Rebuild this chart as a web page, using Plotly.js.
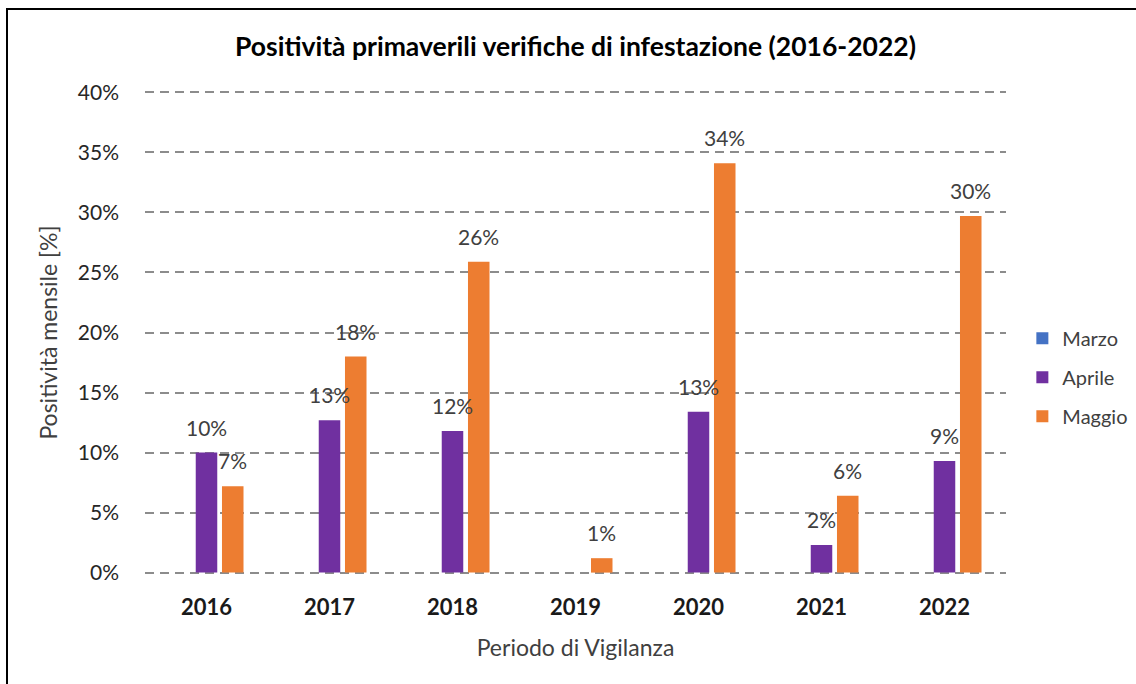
<!DOCTYPE html>
<html>
<head>
<meta charset="utf-8">
<script src="https://cdn.plot.ly/plotly-3.0.1.min.js"></script>
<style>
  html, body { margin: 0; padding: 0; background: #ffffff; overflow: hidden; }
  #frame { position: absolute; left: 0; top: 0; width: 1136px; height: 684px; }
  #border { position: absolute; left: 6px; top: 8px; width: 1200px; height: 800px;
            border-left: 2px solid #000; border-top: 2px solid #000; pointer-events: none; }
  #chart { position: absolute; left: 0; top: 0; width: 1136px; height: 684px; }
</style>
</head>
<body>
<div id="frame">
  <div id="chart"></div>
  <div id="border"></div>
</div>
<script>
// ---- data ----
const years = ['2016', '2017', '2018', '2019', '2020', '2021', '2022'];
const marzo = [0, 0, 0, 0, 0, 0, 0];
const aprile = [0.100, 0.127, 0.118, null, 0.134, 0.023, 0.093];
const maggio = [0.072, 0.180, 0.259, 0.012, 0.341, 0.064, 0.297];
const seriesNames = ['Marzo', 'Aprile', 'Maggio'];
const seriesColors = ['#4472C4', '#7030A0', '#ED7D31'];
const yTicks = [0, 0.05, 0.10, 0.15, 0.20, 0.25, 0.30, 0.35, 0.40];

const FONT = 'Lato, "Open Sans", sans-serif';
const TXT = '#404040';

const seriesData = [marzo, aprile, maggio];
const traces = seriesData.map((vals, i) => ({
  type: 'bar',
  name: seriesNames[i],
  x: years,
  y: vals,
  marker: { color: seriesColors[i], line: { width: 0 } },
  legendgroup: 'g' + i,
  showlegend: true,
  hoverinfo: 'skip'
}));

// data labels (Aprile and Maggio)
const slot = 26.2; // px between grouped bar centres
const annotations = [];
[1, 2].forEach(si => {
  seriesData[si].forEach((v, j) => {
    if (v === null || v === 0) return;
    annotations.push({
      x: j, y: v, xref: 'x', yref: 'y',
      text: Math.round(v * 100) + '%',
      showarrow: false,
      xshift: (si - 1) * slot,
      yshift: 11,
      yanchor: 'bottom',
      font: { family: FONT, size: 21, color: TXT }
    });
  });
});

const layout = {
  width: 1136, height: 684,
  paper_bgcolor: '#ffffff', plot_bgcolor: '#ffffff',
  margin: { l: 145, r: 130, t: 89.6, b: 108.6, pad: 0, autoexpand: false },
  barmode: 'group',
  bargap: 0.36,
  bargroupgap: 0.18,
  font: { family: FONT, color: TXT },
  title: {
    text: '<b>Positività primaverili verifiche di infestazione (2016-2022)</b>',
    font: { family: FONT, size: 26.5, color: '#000000' },
    x: 0.5, xref: 'paper', xanchor: 'center',
    y: 1 - 47 / 684, yref: 'container', yanchor: 'middle'
  },
  xaxis: {
    type: 'category',
    categoryorder: 'array',
    categoryarray: years,
    range: [-0.5, years.length - 0.5],
    autorange: false,
    tickvals: years,
    ticktext: years.map(y => '<b>' + y + '</b>'),
    tickangle: 0,
    tickfont: { family: FONT, size: 22, color: '#1a1a1a' },
    showgrid: false, zeroline: false, showline: false,
    ticks: '', ticklabelstandoff: 17,
    title: { text: 'Periodo di Vigilanza', font: { family: FONT, size: 23, color: TXT }, standoff: 20 },
    fixedrange: true
  },
  yaxis: {
    range: [-0.002, 0.402],
    autorange: false,
    tickvals: yTicks,
    tickformat: '.0%',
    tickfont: { family: FONT, size: 21, color: '#262626' },
    showgrid: true, gridcolor: '#8c8c8c', gridwidth: 2, griddash: '9px,6px',
    zeroline: false, showline: false, ticks: '', ticklabelstandoff: 25,
    title: { text: 'Positività mensile [%]', font: { family: FONT, size: 23, color: TXT }, standoff: 13 },
    fixedrange: true
  },
  legend: {
    x: 1.019, xanchor: 'left', xref: 'paper',
    y: (573 - 377) / 481, yanchor: 'middle',
    font: { family: FONT, size: 20, color: TXT },
    traceorder: 'grouped', tracegroupgap: 10,
    bgcolor: 'rgba(0,0,0,0)', itemclick: false, itemdoubleclick: false
  },
  annotations: annotations,
  showlegend: true
};

Plotly.newPlot('chart', traces, layout, { displayModeBar: false, staticPlot: true });
</script>
</body>
</html>
